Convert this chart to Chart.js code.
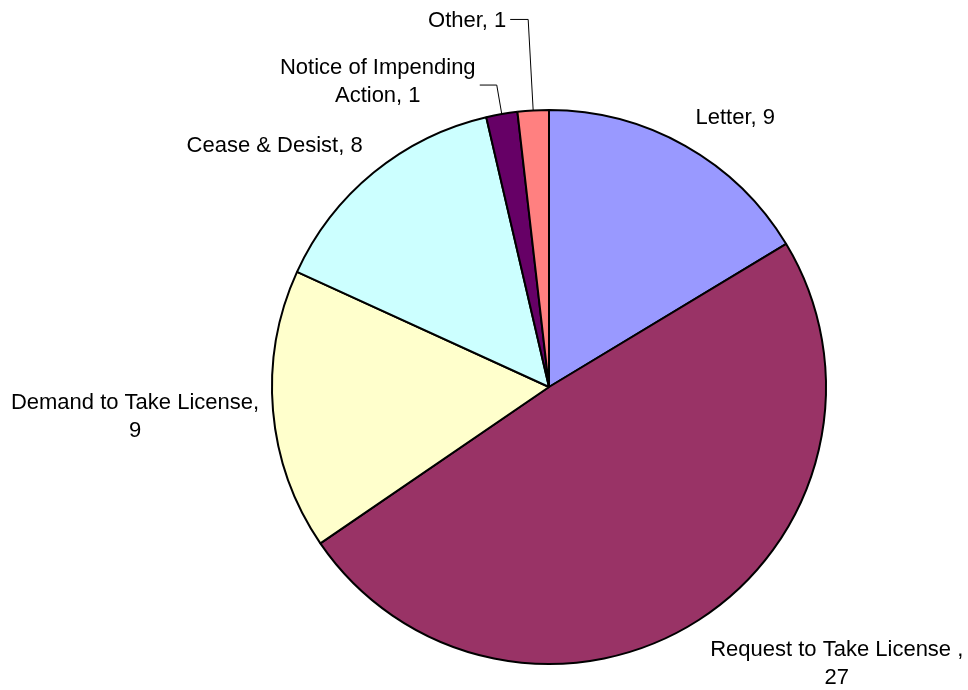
<!DOCTYPE html>
<html>
<head>
<meta charset="utf-8">
<script src="https://cdn.jsdelivr.net/npm/chart.js@4"></script>
<style>
  html, body { margin: 0; padding: 0; background: #ffffff; }
  #wrap { width: 968px; height: 690px; position: relative; }
</style>
</head>
<body>
<div id="wrap"><canvas id="c"></canvas></div>
<script>
const categories = ["Letter", "Request to Take License", "Demand to Take License", "Cease & Desist", "Notice of Impending Action", "Other"];
const values = [9, 27, 9, 8, 1, 1];
const colors = ["#9999FF", "#993366", "#FFFFCC", "#CCFFFF", "#660066", "#FF8080"];
// label text lines
const labelLines = [
  ["Letter, 9"],
  ["Request to Take License ,", "27"],
  ["Demand to Take License,", "9"],
  ["Cease & Desist, 8"],
  ["Notice of Impending", "Action, 1"],
  ["Other, 1"]
];
// label block centre offset from slice edge mid-point
const labelOffsets = [[50, -28], [138, 44], [-138, 6], [-99, -27], [-124, -32], [-66, -90]];
// leader lines (elbow and end, relative to slice edge mid-point), null if none
const leaders = [null, null, null, null, [[-5, -29], [-22, -29]], [[-5, -91], [-23, -91]]];

const labelPlugin = {
  id: 'outLabels',
  afterDatasetsDraw(chart) {
    const ctx = chart.ctx;
    const meta = chart.getDatasetMeta(0);
    ctx.save();
    ctx.font = '22px "Liberation Sans", Arial, sans-serif';
    ctx.fillStyle = '#000000';
    ctx.textAlign = 'center';
    ctx.textBaseline = 'middle';
    const lh = 28;
    meta.data.forEach((arc, i) => {
      const p = arc.getProps(['x', 'y', 'startAngle', 'endAngle', 'outerRadius'], true);
      const mid = (p.startAngle + p.endAngle) / 2;
      const ex = p.x + Math.cos(mid) * p.outerRadius;
      const ey = p.y + Math.sin(mid) * p.outerRadius;
      const lines = labelLines[i];
      const cx = ex + labelOffsets[i][0];
      const cy = ey + labelOffsets[i][1];
      const y0 = cy - (lines.length - 1) * lh / 2;
      lines.forEach((t, k) => ctx.fillText(t, cx, y0 + k * lh));
      if (leaders[i]) {
        ctx.beginPath();
        ctx.strokeStyle = '#000000';
        ctx.lineWidth = 1;
        ctx.moveTo(ex, ey);
        leaders[i].forEach(pt => ctx.lineTo(ex + pt[0], ey + pt[1]));
        ctx.stroke();
      }
    });
    ctx.restore();
  }
};

new Chart(document.getElementById('c'), {
  type: 'pie',
  data: {
    labels: categories,
    datasets: [{
      data: values,
      backgroundColor: colors,
      borderColor: '#000000',
      borderWidth: 2
    }]
  },
  options: {
    responsive: true,
    maintainAspectRatio: false,
    animation: false,
    layout: { padding: { top: 109, bottom: 25, left: 271, right: 141 } },
    plugins: {
      legend: { display: false },
      tooltip: { enabled: false }
    }
  },
  plugins: [labelPlugin]
});
</script>
</body>
</html>
